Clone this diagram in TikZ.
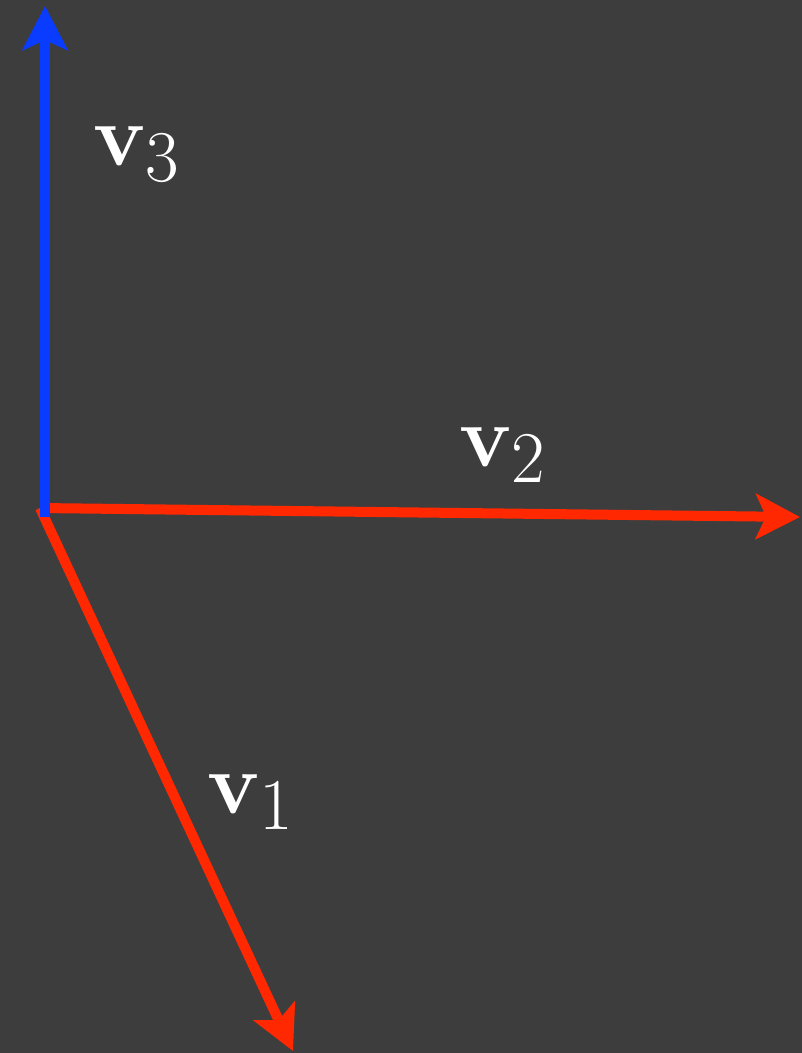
\documentclass[tikz,border=0pt]{standalone}
\usepackage{amsmath}
\usepackage{tikz}
\usetikzlibrary{arrows.meta}
\definecolor{bgdark}{RGB}{61,61,61}
\definecolor{vecred}{RGB}{255,40,0}
\definecolor{vecblue}{RGB}{10,60,255}

\begin{document}
\begin{tikzpicture}[x=0.01cm, y=-0.01cm, every node/.style={text=white, font=\fontsize{31}{36}\selectfont},
    vec/.style={line width=0.1cm, -{Stealth[length=0.44cm, width=0.45cm, inset=0.1cm]}}]
              \fill[bgdark] (0,0) rectangle (802,1053);
              \useasboundingbox (0,0) rectangle (802,1053);

              \coordinate (O) at (40,508);
              \coordinate (B) at (45,517);
              \coordinate (V1) at (293,1051);
              \coordinate (V2) at (800,517);
              \coordinate (V3) at (45,6);

              \draw[vec, vecred] (O) -- (V1);
              \draw[vec, vecred] (O) -- (V2);
              \draw[vec, vecblue] (B) -- (V3);

              \node (L1) at (251,802) {$\mathbf{v}_1$};
              \node (L2) at (503,455) {$\mathbf{v}_2$};
              \node (L3) at (137,154) {$\mathbf{v}_3$};
            \end{tikzpicture}
\end{document}
